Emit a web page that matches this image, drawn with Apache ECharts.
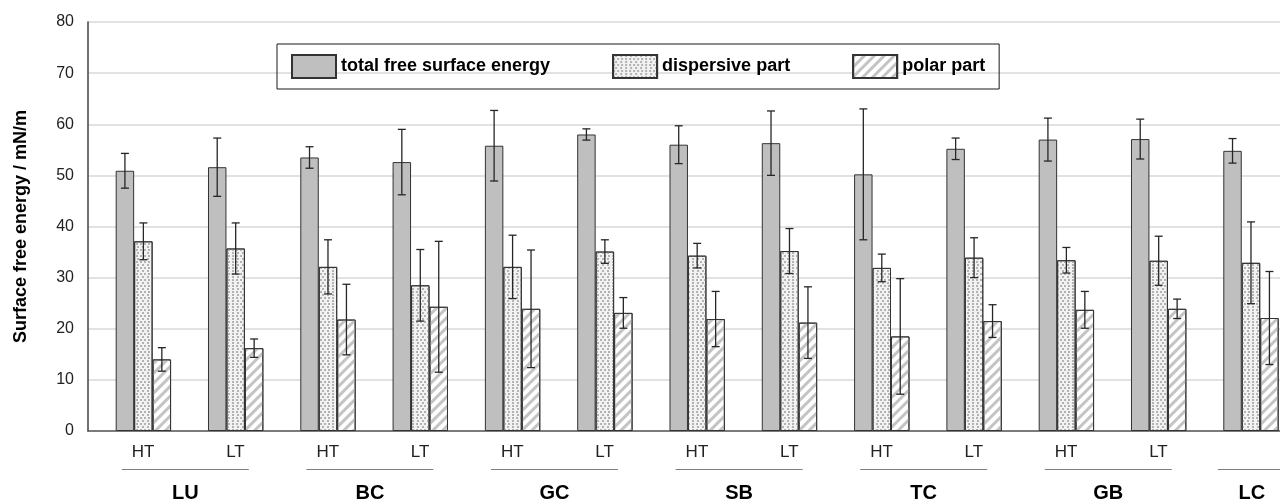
<!DOCTYPE html>
<html>
<head>
<meta charset="utf-8">
<script src="https://cdn.jsdelivr.net/npm/echarts@6/dist/echarts.min.js"></script>
<style>
  html, body { margin: 0; padding: 0; background: #fff; }
  #chart { width: 1280px; height: 503px; }
</style>
</head>
<body>
<div id="chart"></div>
<script>
// sample groups and temperature levels (LC only has one, cut at the right edge)
const groups = ['LU', 'BC', 'GC', 'SB', 'TC', 'GB', 'LC'];
const temps = ['HT', 'LT'];

// values, mN/m
const total = [50.9, 51.6, 53.5, 52.6, 55.8, 58.0, 56.0, 56.3, 50.2, 55.2, 57.0, 57.1, 54.8];
const totalErr = [3.4, 5.7, 2.1, 6.4, 6.9, 1.1, 3.7, 6.3, 12.8, 2.1, 4.2, 3.9, 2.4];
const dispersive = [37.1, 35.7, 32.1, 28.5, 32.1, 35.1, 34.3, 35.2, 31.9, 33.9, 33.4, 33.3, 32.9];
const dispersiveErr = [3.6, 5.0, 5.3, 7.0, 6.2, 2.3, 2.4, 4.4, 2.7, 3.9, 2.5, 4.8, 8.0];
const polar = [14.0, 16.2, 21.8, 24.3, 23.9, 23.1, 21.9, 21.2, 18.5, 21.5, 23.7, 23.9, 22.1];
const polarErr = [2.3, 1.8, 6.9, 12.8, 11.5, 3.0, 5.4, 7.0, 11.3, 3.2, 3.6, 1.9, 9.1];

const yTicks = {min: 0, max: 80, step: 10};

// 'LU HT', 'LU LT', ... one category per bar group
const categories = groups.flatMap(g => temps.map(t => g + ' ' + t));

const BAR = 0.2; // bar width as part of a category
const errSeries = (vals, errs, slot) => ({
    type: 'custom',
    silent: true,
    z: 5,
    data: vals.map((v, i) => [i, v, errs[i]]),
    renderItem: (params, api) => {
        let i = api.value(0), v = api.value(1), e = api.value(2);
        let band = api.size([1, 0])[0];
        let top = api.coord([i, v + e]);
        let bot = api.coord([i, v - e]);
        let x = top[0] + band * BAR * slot;
        let cap = 4;
        let st = {stroke: '#262626', lineWidth: 1.3};
        return {
            type: 'group',
            children: [
                {type: 'line', shape: {x1: x, y1: top[1], x2: x, y2: bot[1]}, style: st},
                {type: 'line', shape: {x1: x - cap, y1: top[1], x2: x + cap, y2: top[1]}, style: st},
                {type: 'line', shape: {x1: x - cap, y1: bot[1], x2: x + cap, y2: bot[1]}, style: st}
            ]
        };
    }
});

let chart = echarts.init(document.getElementById('chart'));
chart.setOption({
    animation: false,
    textStyle: {fontFamily: 'Liberation Sans, Arial, sans-serif'},
    legend: {
        data: ['total free surface energy', 'dispersive part', 'polar part'],
        icon: 'rect',
        left: 277,
        top: 44,
        padding: [10, 14, 10, 14],
        itemWidth: 44,
        itemHeight: 23,
        itemGap: 62,
        borderColor: '#1a1a1a',
        borderWidth: 1,
        textStyle: {fontSize: 18, fontWeight: 'bold', color: '#000'}
    },
    grid: {left: 88, top: 22, bottom: 72, width: 92.3 * categories.length, outerBoundsMode: 'none'},
    xAxis: [
        {
            type: 'category',
            data: categories,
            axisLine: {lineStyle: {color: '#595959', width: 1.5}},
            axisTick: {show: false},
            axisLabel: {
                interval: 0,
                margin: 13,
                fontSize: 17,
                color: '#222',
                padding: [0, 0, 0, 18],
                formatter: (val, i) => i >= 12 ? '' : val.split(' ')[1]
            }
        },
        {
            type: 'category',
            position: 'bottom',
            data: groups,
            axisLine: {show: false},
            axisTick: {show: false},
            axisLabel: {
                interval: 0,
                margin: 38,
                padding: [0, 0, 0, 10],
                formatter: v => v === 'LC' ? '{lineLC| }\n{nameLC|' + v + '}' : '{line| }\n{name|' + v + '}',
                rich: {
                    line: {width: 127, height: 1, lineHeight: 1, backgroundColor: '#7f7f7f'},
                    name: {fontSize: 20, fontWeight: 'bold', color: '#000', lineHeight: 46},
                    lineLC: {width: 150, height: 1, lineHeight: 1, backgroundColor: '#7f7f7f'},
                    nameLC: {fontSize: 20, fontWeight: 'bold', color: '#000', lineHeight: 46, padding: [0, 82, 0, 0]}
                }
            }
        }
    ],
    yAxis: {
        type: 'value',
        min: yTicks.min,
        max: yTicks.max,
        interval: yTicks.step,
        name: 'Surface free energy / mN/m',
        nameLocation: 'middle',
        nameGap: 58,
        nameTextStyle: {fontSize: 18, fontWeight: 'bold', color: '#000'},
        axisLine: {show: true, lineStyle: {color: '#404040', width: 1.5}},
        axisTick: {show: false},
        axisLabel: {fontSize: 16, color: '#222', margin: 14},
        splitLine: {lineStyle: {color: '#d9d9d9', width: 1.5}}
    },
    series: [
        // empty slot left of each group, keeps the bars where the original had them
        {name: 'pad', type: 'bar', data: total.map(() => '-'), barWidth: '20%', barGap: '0%'},
        {
            name: 'total free surface energy',
            type: 'bar',
            data: total,
            barWidth: '20%',
            barGap: '0%',
            itemStyle: {color: '#bfbfbf', borderColor: '#333', borderWidth: 1}
        },
        {
            name: 'dispersive part',
            type: 'bar',
            data: dispersive,
            barWidth: '20%',
            barGap: '0%',
            itemStyle: {
                color: '#f2f2f2', borderColor: '#333', borderWidth: 1,
                decal: {
                    symbol: 'rect', symbolSize: 1, color: '#b3b3b3',
                    dashArrayX: [[1.2, 2], [0, 1.6, 1.2, 0.4]],
                    dashArrayY: [1.2, 0.9]
                }
            }
        },
        {
            name: 'polar part',
            type: 'bar',
            data: polar,
            barWidth: '20%',
            barGap: '0%',
            itemStyle: {
                color: '#fff', borderColor: '#333', borderWidth: 1,
                decal: {
                    symbol: 'rect', symbolSize: 1, color: '#c4c4c4',
                    dashArrayX: [1, 0], dashArrayY: [2.2, 3.6],
                    rotation: -Math.PI / 4
                }
            }
        },
        errSeries(total, totalErr, -0.5),
        errSeries(dispersive, dispersiveErr, 0.5),
        errSeries(polar, polarErr, 1.5)
    ]
});
</script>
</body>
</html>
